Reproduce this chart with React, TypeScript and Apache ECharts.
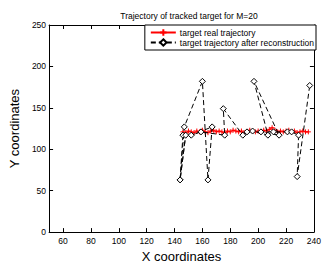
import React, { useEffect, useRef } from "react";
import * as echarts from "echarts";

const titleText = "Trajectory of tracked target for M=20";
const xTicks = [60, 80, 100, 120, 140, 160, 180, 200, 220, 240];
const yTicks = [0, 50, 100, 150, 200, 250];

const realX = [146, 148, 150, 152, 154, 156, 158, 160, 162, 164, 166, 168, 170, 172, 174, 176, 178, 180, 182, 184, 186, 188, 190, 192, 194, 196, 198, 200, 202, 204, 206, 208, 210, 212, 214, 216, 218, 220, 222, 224, 226, 228, 230, 232, 234, 236];
const realY = [121, 120, 122, 121, 120, 122, 121, 123, 121, 120, 122, 123, 121, 122, 121, 120, 122, 121, 123, 122, 121, 122, 120, 121, 123, 122, 121, 122, 121, 123, 122, 124, 126, 123, 121, 122, 121, 122, 123, 121, 122, 120, 121, 122, 121, 121];

const recX = [146, 144, 148, 144, 147, 160, 164, 167, 152, 159, 176, 175, 189, 192, 196, 207, 197, 215, 202, 211, 221, 224, 229, 228, 237];
const recY = [117, 63, 117, 63, 127, 182, 63, 127, 117, 121, 117, 149, 117, 121, 122, 117, 182, 117, 121, 121, 121, 121, 117, 67, 177];

const legendNames = ["target real trajectory", "target trajectory after reconstruction"];

export default function App() {
  const ref = useRef<HTMLDivElement>(null);
  useEffect(() => {
    if (!ref.current) return;
    const chart = echarts.init(ref.current, null, { renderer: "svg" });
    const font = "Liberation Sans, Arial, sans-serif";
    const axisCommon = {
      axisLine: { show: true, onZero: false, lineStyle: { color: "#000", width: 1 } },
      splitLine: { show: false },
    };
    chart.setOption({
      animation: false,
      backgroundColor: "#fff",
      textStyle: { fontFamily: font },
      title: {
        text: titleText,
        left: 184,
        top: 6,
        textAlign: "center",
        textStyle: { fontSize: 8.5, fontWeight: "normal", color: "#000", fontFamily: font },
      },
      legend: {
        orient: "vertical",
        right: 8,
        top: 25,
        backgroundColor: "#fff",
        borderColor: "#000",
        borderWidth: 1,
        borderRadius: 0,
        padding: [3, 2, 3, 5],
        itemGap: 1,
        itemWidth: 25,
        itemHeight: 8,
        textStyle: { fontSize: 8.5, color: "#000", fontFamily: font, padding: [0, 0, 0, -1] },
        data: legendNames,
      },
      grid: { left: 46, right: 3, top: 25, bottom: 29 },
      xAxis: [
        {
          type: "value",
          min: 50,
          max: 240,
          ...axisCommon,
          name: "X coordinates",
          nameLocation: "middle",
          nameGap: 12,
          nameTextStyle: { fontSize: 13, color: "#000", fontFamily: font },
          axisTick: { show: true, inside: true, length: 4, customValues: xTicks, lineStyle: { color: "#000" } },
          axisLabel: { show: true, customValues: xTicks, fontSize: 8.5, color: "#000", margin: 4, fontFamily: font },
        },
        {
          type: "value",
          min: 50,
          max: 240,
          position: "top",
          ...axisCommon,
          axisTick: { show: true, inside: true, length: 4, customValues: xTicks, lineStyle: { color: "#000" } },
          axisLabel: { show: false },
        },
      ],
      yAxis: [
        {
          type: "value",
          min: 0,
          max: 250,
          interval: 50,
          ...axisCommon,
          name: "Y coordinates",
          nameLocation: "middle",
          nameGap: 22,
          nameTextStyle: { fontSize: 13, color: "#000", fontFamily: font },
          axisTick: { show: true, inside: true, length: 4, customValues: yTicks, lineStyle: { color: "#000" } },
          axisLabel: { show: true, customValues: yTicks, fontSize: 8.5, color: "#000", margin: 3, fontFamily: font },
        },
        {
          type: "value",
          min: 0,
          max: 250,
          interval: 50,
          position: "right",
          ...axisCommon,
          axisTick: { show: true, inside: true, length: 4, customValues: yTicks, lineStyle: { color: "#000" } },
          axisLabel: { show: false },
        },
      ],
      series: [
        {
          name: legendNames[0],
          type: "line",
          data: realX.map((x, i) => [x, realY[i]]),
          lineStyle: { color: "#ff0000", width: 1 },
          itemStyle: { color: "#ff0000", borderColor: "#ff0000", borderWidth: 1 },
          symbol: "path://M0,-1L0,1M-1,0L1,0",
          symbolSize: 5,
          showSymbol: true,
          z: 2,
        },
        {
          name: legendNames[1],
          type: "line",
          data: recX.map((x, i) => [x, recY[i]]),
          lineStyle: { color: "#000", width: 1, type: [5, 3] },
          itemStyle: { color: "#fff", borderColor: "#000", borderWidth: 1 },
          symbol: "path://M0,-1L1,0L0,1L-1,0Z",
          symbolSize: 6,
          showSymbol: true,
          z: 3,
        },
      ],
    });
    return () => chart.dispose();
  }, []);
  return (
    <div
      ref={ref}
      style={{ position: "fixed", left: 0, top: 0, width: 324, height: 268, background: "#fff" }}
    />
  );
}
